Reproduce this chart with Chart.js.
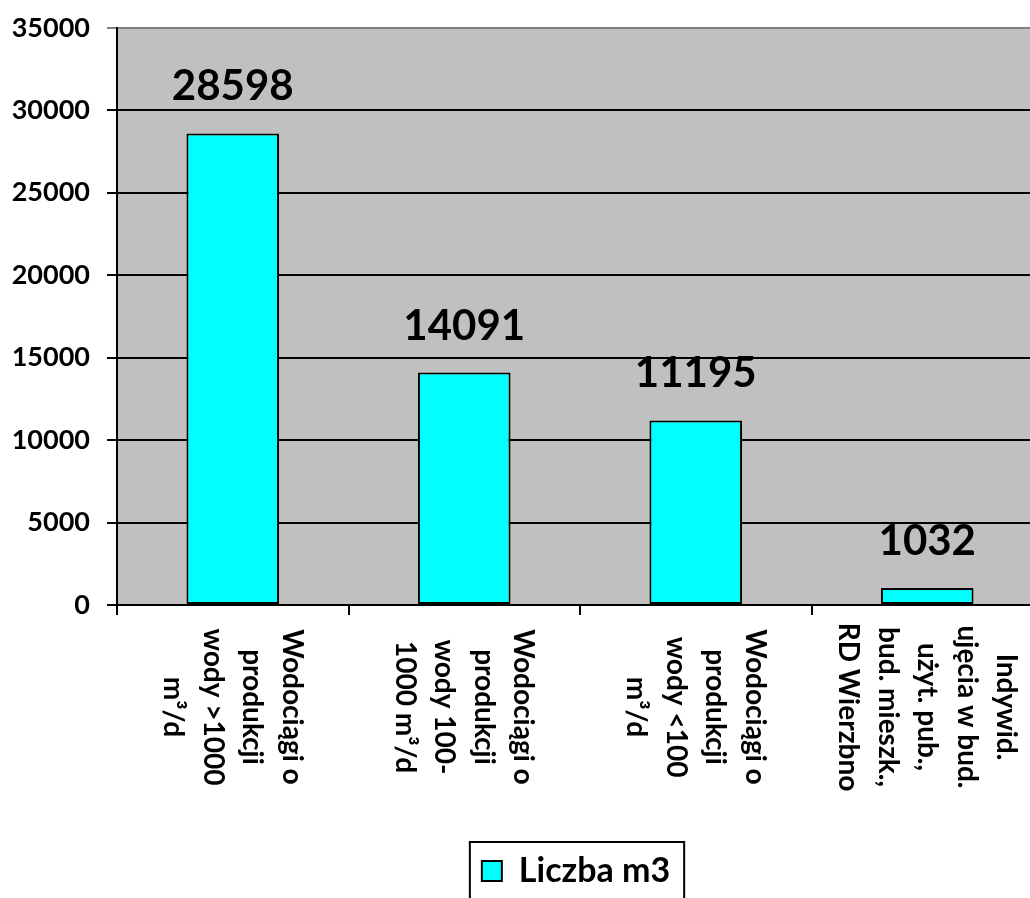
<!DOCTYPE html>
<html lang="pl">
<head>
<meta charset="UTF-8">
<title>Liczba m3</title>
<script src="https://cdn.jsdelivr.net/npm/chart.js"></script>
<style>
  html, body { margin: 0; padding: 0; background: #fff; overflow: hidden; }
  #wrap { width: 1030px; height: 898px; overflow: hidden; }
</style>
</head>
<body>
<div id="wrap">
  <canvas id="chart" width="1043" height="898" style="width:1043px;height:898px"></canvas>
</div>
<script>
// data
const categories = [
  ['Wodociągi o', 'produkcji', 'wody >1000', 'm³/d'],
  ['Wodociągi o', 'produkcji', 'wody 100-', '1000 m³/d'],
  ['Wodociągi o', 'produkcji', 'wody <100', 'm³/d'],
  ['Indywid.', 'ujęcia w bud.', 'użyt. pub.,', 'bud. mieszk.,', 'RD Wierzbno']
];
const seriesName = 'Liczba m3';
const values = [28598, 14091, 11195, 1032];
const yTicks = [0, 5000, 10000, 15000, 20000, 25000, 30000, 35000];

const FONT = 'Lato, "Open Sans", sans-serif';
Chart.defaults.color = '#000';
Chart.defaults.font.family = FONT;

// gray plot area
const plotBg = {
  id: 'plotBg',
  beforeDraw(chart) {
    const a = chart.chartArea, ctx = chart.ctx;
    ctx.save();
    ctx.fillStyle = '#c0c0c0';
    ctx.fillRect(a.left, a.top, a.right - a.left, a.bottom - a.top);
    ctx.restore();
  }
};

// value labels, rotated category labels, legend frame
const extras = {
  id: 'extras',
  afterLayout(chart) {
    // the legend sits a bit right of centre in the original
    const lg = chart.legend;
    const dx = 576 - (lg.left + lg.right) / 2;
    lg.left += dx;
    lg.right += dx;
  },
  afterDatasetsDraw(chart) {
    const ctx = chart.ctx;
    const meta = chart.getDatasetMeta(0);
    ctx.save();
    ctx.font = 'bold 42px ' + FONT;
    ctx.fillStyle = '#000';
    ctx.textAlign = 'center';
    ctx.textBaseline = 'alphabetic';
    meta.data.forEach((bar, i) => {
      ctx.fillText(String(values[i]), bar.x, bar.y - 33);
    });
    ctx.restore();
  },
  afterDraw(chart) {
    const ctx = chart.ctx;
    const xs = chart.scales.x;
    ctx.save();
    ctx.font = 'bold 28px ' + FONT;
    ctx.fillStyle = '#000';
    ctx.textAlign = 'center';
    ctx.textBaseline = 'middle';
    categories.forEach((lines, i) => {
      const cx = xs.getPixelForTick(i);
      ctx.save();
      ctx.translate(cx, 707);
      ctx.rotate(Math.PI / 2);
      const lh = 39.5;
      lines.forEach((t, j) => {
        ctx.fillText(t, 0, (j - (lines.length - 1) / 2) * lh);
      });
      ctx.restore();
    });
    const hb = chart.legend.legendHitBoxes[0];
    if (hb) {
      ctx.strokeStyle = '#000';
      ctx.lineWidth = 2;
      ctx.strokeRect(hb.left - 12, hb.top - 12, hb.width + 26, 100);
    }
    ctx.restore();
  }
};

new Chart(document.getElementById('chart').getContext('2d'), {
  type: 'bar',
  data: {
    labels: categories,
    datasets: [{
      label: seriesName,
      data: values,
      backgroundColor: '#00ffff',
      borderColor: '#000',
      borderWidth: 2,
      borderSkipped: false,
      categoryPercentage: 1,
      barPercentage: 0.4
    }]
  },
  options: {
    responsive: false,
    animation: false,
    layout: { padding: { top: 18, left: 0, right: 0, bottom: 0 } },
    plugins: {
      tooltip: { enabled: false },
      legend: {
        position: 'bottom',
        labels: {
          font: { size: 34, weight: 'bold' },
          boxWidth: 20,
          boxHeight: 20,
          padding: 12
        }
      }
    },
    scales: {
      x: {
        afterFit(s) { s.height = 237; },
        grid: { offset: true, drawOnChartArea: false, color: '#000', lineWidth: 2, tickLength: 10 },
        border: { color: '#000', width: 2 },
        ticks: { display: false }
      },
      y: {
        min: 0,
        max: 35000,
        afterFit(s) { s.width = 117; },
        afterBuildTicks(s) { s.ticks = yTicks.map(v => ({ value: v })); },
        grid: {
          color: c => (c.tick && c.tick.value === 35000) ? '#808080' : '#000',
          lineWidth: 2,
          tickLength: 10
        },
        border: { color: '#000', width: 2 },
        ticks: {
          font: { size: 27, weight: 'bold', lineHeight: 0.8 },
          padding: 17,
          callback: v => String(v)
        }
      }
    }
  },
  plugins: [plotBg, extras]
});
</script>
</body>
</html>
